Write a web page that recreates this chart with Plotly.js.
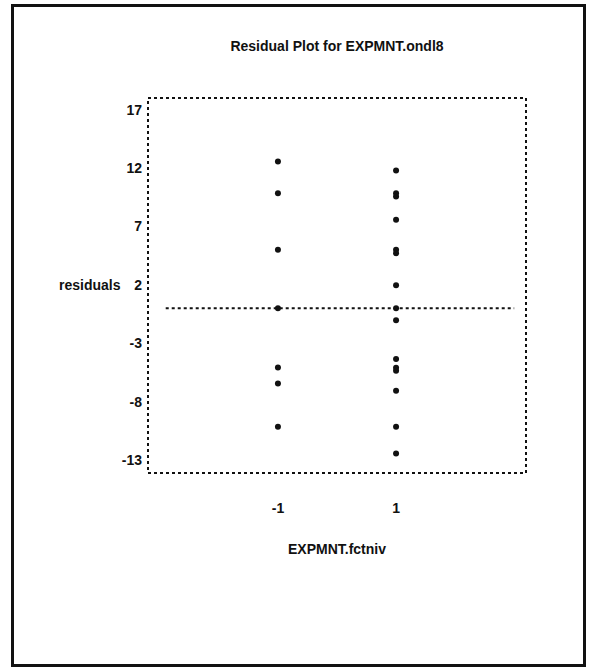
<!DOCTYPE html>
<html>
<head>
<meta charset="utf-8">
<script src="https://cdn.plot.ly/plotly-3.0.1.min.js"></script>
<style>
  html, body { margin: 0; padding: 0; background: #fff; }
  #wrap { position: relative; width: 593px; height: 668px; }
  #chart { position: absolute; left: 0; top: 0; width: 593px; height: 668px; }
  #frame { position: absolute; left: 11px; top: 4px; width: 569px; height: 657px;
           border: 3px solid #111; pointer-events: none; }
</style>
</head>
<body>
<div id="wrap">
  <div id="chart"></div>
  <div id="frame"></div>
</div>
<script>
// ---- data ----
const levelLow = -1;
const levelHigh = 1;
const residualsLow = [12.56, 9.85, 5.0, 0, -5.06, -6.43, -10.15];
const residualsHigh = [11.8, 9.85, 9.56, 7.57, 5.0, 4.71, 1.97, 0, -1.03, -4.34, -5.09, -5.35, -7.06, -10.15, -12.43];
const refLineX = [-2.9, 3.0];
const refLineY = [0, 0];
const yTickVals = [17, 12, 7, 2, -3, -8, -13];
const xTickVals = [-1, 1];
const titleText = "Residual Plot for EXPMNT.ondl8";
const xTitleText = "EXPMNT.fctniv";
const yTitleText = "residuals";

const xs = [].concat(residualsLow.map(() => levelLow), residualsHigh.map(() => levelHigh));
const ys = [].concat(residualsLow, residualsHigh);

const boldFont = { family: "Liberation Sans, Arial, sans-serif", size: 14, color: "#111", weight: "bold" };
const tickFont = { family: "Liberation Sans, Arial, sans-serif", size: 14, color: "#111", weight: "bold" };

const traces = [
  {
    x: refLineX, y: refLineY, type: "scatter", mode: "lines",
    line: { color: "#111", width: 2, dash: "dot" }, hoverinfo: "skip", showlegend: false
  },
  {
    x: xs, y: ys, type: "scatter", mode: "markers",
    marker: { color: "#111", size: 6, symbol: "circle" }, showlegend: false
  }
];

const layout = {
  width: 593, height: 668,
  margin: { l: 148, r: 67, t: 98, b: 195 },
  paper_bgcolor: "#fff", plot_bgcolor: "#fff",
  showlegend: false,
  title: { text: titleText, font: boldFont, x: 0.5, xref: "paper", y: 1 - 46/668, yanchor: "middle" },
  xaxis: {
    range: [-3.2, 3.2], tickvals: xTickVals, ticktext: xTickVals.map(String),
    showgrid: false, zeroline: false, showline: false, ticks: "",
    tickfont: tickFont, ticklabelstandoff: 25,
    title: { text: xTitleText, font: boldFont, standoff: 29 }
  },
  yaxis: {
    range: [-14.1, 18.0], tickvals: yTickVals, ticktext: yTickVals.map(String),
    showgrid: false, zeroline: false, showline: false, ticks: "",
    tickfont: tickFont, ticklabelstandoff: 5
  },
  shapes: [
    { type: "rect", xref: "paper", yref: "paper", x0: 0, x1: 1, y0: 0, y1: 1,
      line: { color: "#111", width: 2, dash: "dot" } }
  ],
  annotations: [
    { text: yTitleText, xref: "paper", yref: "y", x: -0.066, y: 2, xanchor: "right", yanchor: "middle",
      showarrow: false, font: boldFont }
  ]
};

Plotly.newPlot("chart", traces, layout, { displayModeBar: false, staticPlot: true });
</script>
</body>
</html>
